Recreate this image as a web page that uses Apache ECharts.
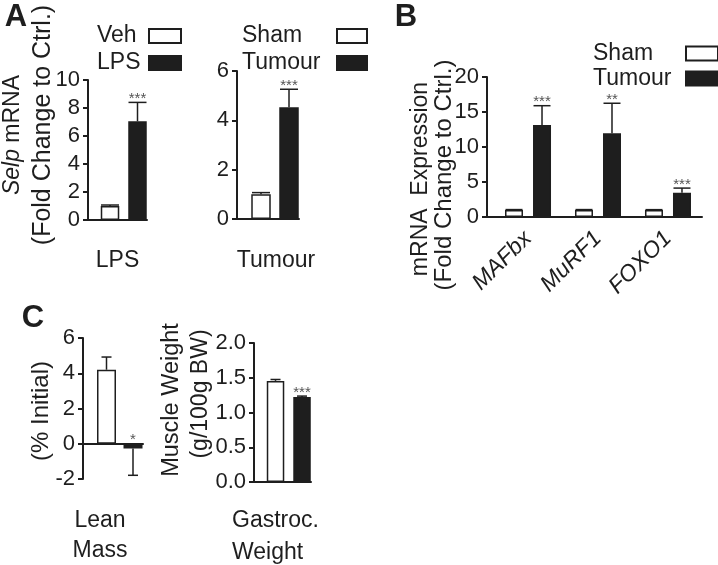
<!DOCTYPE html>
<html><head><meta charset="utf-8">
<script src="https://cdn.jsdelivr.net/npm/echarts@6/dist/echarts.min.js"></script>
<style>html,body{margin:0;padding:0;background:#fff}#c{width:718px;height:565px}</style>
</head><body><div id="c"></div>
<script>
// ================= DATA =================
// Panel A (left): Selp mRNA, LPS model
const aLpsGroup = ['LPS'];
const aVeh = [1.0];
const aVehErr = [0.07];
const aLps = [7.05];
const aLpsErr = [1.35];
const aLpsSig = ['***'];
const aLpsTicks = [0, 2, 4, 6, 8, 10];

// Panel A (right): Selp mRNA, tumour model
const aTumGroup = ['Tumour'];
const aSham = [1.0];
const aShamErr = [0.07];
const aTum = [4.53];
const aTumErr = [0.73];
const aTumSig = ['***'];
const aTumTicks = [0, 2, 4, 6];

// Panel B: atrogene mRNA expression
const bGenes = ['MAFbx', 'MuRF1', 'FOXO1'];
const bSham = [1.0, 1.0, 1.0];
const bShamErr = [0.06, 0.06, 0.05];
const bTum = [13.15, 11.95, 3.45];
const bTumErr = [2.75, 4.3, 0.68];
const bTumSig = ['***', '**', '***'];
const bTicks = [0, 5, 10, 15, 20];

// Panel C (left): lean mass, % initial
const cLeanGroup = ['Lean\nMass'];
const cLeanSham = [4.2];
const cLeanShamErr = [0.72];
const cLeanTum = [-0.27];
const cLeanTumErr = [1.52];
const cLeanTumSig = ['*'];
const cLeanTicks = [-2, 0, 2, 4, 6];

// Panel C (right): gastrocnemius weight (g/100g BW)
const cGasGroup = ['Gastroc.', 'Weight'];
const cGasSham = [1.455];
const cGasShamErr = [0.02];
const cGasTum = [1.224];
const cGasTumErr = [0.012];
const cGasTumSig = ['***'];
const cGasTicks = [0.0, 0.5, 1.0, 1.5, 2.0];

// ================= STYLE / LAYOUT =================
const INK = '#1e1e1e';
const FONT = '"Liberation Sans", Arial, Helvetica, sans-serif';
const WHITE = '#ffffff';
const BLACK = '#1e1e1e';
const STAR = '#555555';

const L = [
  { grid: { left: 88, top: 80, width: 59, height: 140 }, x: [0.394, 1.394], w: 18.5, gap: 9, cap: 18 },
  { grid: { left: 237, top: 71, width: 62, height: 148 }, x: [0.387, 1.387], w: 19.5, gap: 8.5, cap: 18 },
  { grid: { left: 487, top: 77, width: 215, height: 140 }, x: [0.414, 3.486], w: 18, gap: 10, cap: 17 },
  { grid: { left: 83, top: 338, width: 60, height: 141 }, x: [0.3875, 1.3875], w: 19, gap: 7.5, cap: 10 },
  { grid: { left: 254, top: 343, width: 57, height: 139 }, x: [0.39, 1.39], w: 17.5, gap: 9, cap: 10 }
];

function yAx(gi, ticks, fmt) {
  return {
    type: 'value', gridIndex: gi,
    min: ticks[0], max: ticks[ticks.length - 1], interval: ticks[1] - ticks[0],
    axisLine: { show: true, onZero: false, lineStyle: { color: INK, width: 2 } },
    axisTick: { show: true, length: 5, lineStyle: { color: INK, width: 2 } },
    splitLine: { show: false },
    axisLabel: { color: INK, fontSize: 22, fontFamily: FONT, margin: 8, formatter: fmt || (v => String(v)) }
  };
}
function xAx(gi, extra) {
  return Object.assign({
    type: 'value', gridIndex: gi, min: L[gi].x[0], max: L[gi].x[1],
    axisLine: { show: true, onZero: true, lineStyle: { color: INK, width: 2 } },
    axisTick: { show: false }, splitLine: { show: false },
    axisLabel: { show: false }
  }, extra || {});
}
function bar(name, gi, vals, fill) {
  const lay = L[gi];
  return {
    type: 'bar', name, xAxisIndex: gi, yAxisIndex: gi, silent: true,
    data: vals.map((v, i) => [i + 1, v]),
    barWidth: lay.w, barGap: (lay.gap / lay.w * 100).toFixed(1) + '%',
    itemStyle: { color: fill, borderColor: INK, borderWidth: 1.5 }
  };
}
function err(gi, vals, errs, sig, side) {
  const lay = L[gi];
  const off = side * (lay.w + lay.gap) / 2;
  return {
    type: 'custom', xAxisIndex: gi, yAxisIndex: gi, silent: true, z: 5,
    data: vals.map((v, i) => [i + 1, v, errs[i]]),
    renderItem(params, api) {
      const x = api.value(0), m = api.value(1), e = api.value(2);
      const dir = m >= 0 ? 1 : -1;
      const p0 = api.coord([x, m]);
      const p1 = api.coord([x, m + dir * e]);
      const cx = p0[0] + off;
      const st = { stroke: INK, lineWidth: 1.5 };
      const ch = [
        { type: 'line', shape: { x1: cx, y1: p0[1], x2: cx, y2: p1[1] }, style: st },
        { type: 'line', shape: { x1: cx - lay.cap / 2, y1: p1[1], x2: cx + lay.cap / 2, y2: p1[1] }, style: st }
      ];
      const s = sig ? sig[params.dataIndex] : '';
      if (s) {
        const top = api.coord([x, Math.max(0, dir > 0 ? m + e : 0)]);
        ch.push({ type: 'text', style: { text: s, x: cx, y: top[1] + 4, align: 'center', verticalAlign: 'bottom',
          fontSize: 15, fontFamily: FONT, fill: STAR } });
      }
      return { type: 'group', children: ch };
    }
  };
}
function legend(names, left, top, textW, iconW, gap) {
  return {
    data: names, orient: 'vertical', left, top, padding: 0, itemGap: gap,
    itemWidth: iconW, itemHeight: 14, align: 'right', icon: 'rect', selectedMode: false,
    formatter: n => '{t|' + n + '}',
    textStyle: { color: INK, fontFamily: FONT, fontSize: 23,
      rich: { t: { width: textW, align: 'left', fontSize: 23, fontFamily: FONT, color: INK } } }
  };
}
function vtext(str, x, y, size, rich) {
  return { type: 'text', x, y, rotation: Math.PI / 2, silent: true,
    style: { text: str, align: 'center', verticalAlign: 'middle', fontSize: size, fontFamily: FONT, fill: INK,
      rich: rich || {} } };
}
function letter(str, x, y) {
  return { type: 'text', x, y, silent: true,
    style: { text: str, align: 'center', verticalAlign: 'middle', fontSize: 31, fontWeight: 'bold', fontFamily: FONT, fill: INK } };
}

const nameStyle = { color: INK, fontSize: 23, fontFamily: FONT };

const option = {
  animation: false,
  backgroundColor: '#ffffff',
  grid: L.map(l => Object.assign({ containLabel: false, outerBoundsMode: 'none' }, l.grid)),
  xAxis: [
    xAx(0, { name: aLpsGroup[0], nameLocation: 'middle', nameGap: 29, nameTextStyle: nameStyle }),
    xAx(1, { name: aTumGroup[0], nameLocation: 'middle', nameGap: 30, nameTextStyle: Object.assign({ padding: [0, 0, 0, 16] }, nameStyle) }),
    xAx(2, { axisLabel: { show: true, customValues: [1, 2, 3], rotate: 45, margin: 18, color: INK, fontSize: 23,
      fontStyle: 'italic', fontFamily: FONT, formatter: v => bGenes[Math.round(v) - 1] || '' } }),
    xAx(3, { name: cLeanGroup[0], nameLocation: 'middle', nameGap: 27,
      nameTextStyle: Object.assign({ padding: [0, 26, 0, 0], lineHeight: 30, align: 'center' }, nameStyle) }),
    xAx(4, { name: cGasGroup.map(s => '{a|' + s + '}').join('\n'), nameLocation: 'middle', nameGap: 23,
      nameTextStyle: Object.assign({ padding: [0, 11, 0, 0], rich: { a: { width: 90, align: 'left', lineHeight: 32, fontSize: 23, fontFamily: FONT, color: INK } } }, nameStyle) })
  ],
  yAxis: [
    yAx(0, aLpsTicks), yAx(1, aTumTicks), yAx(2, bTicks), yAx(3, cLeanTicks),
    yAx(4, cGasTicks, v => v.toFixed(1))
  ],
  legend: [
    legend(['Veh', 'LPS'], 97, 24.5, 47, 32, 4),
    legend(['Sham', 'Tumour'], 242, 24.5, 90, 30, 4),
    legend(['Sham', 'Tumour'], 593, 42, 88, 32, 2)
  ],
  series: [
    bar('Veh', 0, aVeh, WHITE), bar('LPS', 0, aLps, BLACK),
    err(0, aVeh, aVehErr, null, -1), err(0, aLps, aLpsErr, aLpsSig, 1),
    bar('Sham', 1, aSham, WHITE), bar('Tumour', 1, aTum, BLACK),
    err(1, aSham, aShamErr, null, -1), err(1, aTum, aTumErr, aTumSig, 1),
    bar('Sham', 2, bSham, WHITE), bar('Tumour', 2, bTum, BLACK),
    err(2, bSham, bShamErr, null, -1), err(2, bTum, bTumErr, bTumSig, 1),
    bar('Sham ', 3, cLeanSham, WHITE), bar('Tumour ', 3, cLeanTum, BLACK),
    err(3, cLeanSham, cLeanShamErr, null, -1), err(3, cLeanTum, cLeanTumErr, cLeanTumSig, 1),
    bar('Sham ', 4, cGasSham, WHITE), bar('Tumour ', 4, cGasTum, BLACK),
    err(4, cGasSham, cGasShamErr, null, -1), err(4, cGasTum, cGasTumErr, cGasTumSig, 1)
  ],
  graphic: [
    letter('A', 16, 17), letter('B', 406, 17), letter('C', 33, 318),
    vtext('{i|Selp} mRNA', 13, 135, 23, { i: { fontStyle: 'italic', fontSize: 23, fontFamily: FONT, fill: INK } }),
    vtext('(Fold Change to Ctrl.)', 43, 125, 25),
    vtext('mRNA  Expression', 421, 179, 23),
    vtext('(Fold Change to Ctrl.)', 444, 175, 24),
    vtext('(% Initial)', 41, 411, 24),
    vtext('Muscle Weight', 172, 400, 23.5),
    vtext('(g/100g BW)', 201, 394, 23)
  ]
};

const chart = echarts.init(document.getElementById('c'), null, { renderer: 'canvas' });
chart.setOption(option);
</script>
</body></html>
